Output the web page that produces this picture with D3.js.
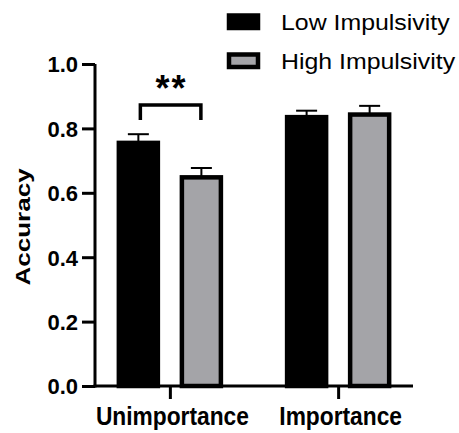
<!DOCTYPE html>
<html>
<head>
<meta charset="utf-8">
<script src="https://cdn.jsdelivr.net/npm/d3@7"></script>
<style>
  html, body { margin: 0; padding: 0; background: #fff; }
  svg { display: block; }
  text { font-family: "Liberation Sans", Arial, sans-serif; fill: #000; }
</style>
</head>
<body>
<div id="chart"></div>
<script>
// values
var categories = ['Unimportance', 'Importance']
var series = ['Low Impulsivity', 'High Impulsivity']
var lowMean = [0.755, 0.835]
var lowSem = [0.027, 0.02]
var highMean = [0.648, 0.843]
var highSem = [0.029, 0.027]
var yTicks = [0, 0.2, 0.4, 0.6, 0.8, 1.0]
var sigLabel = '**'

var W = 459, H = 433
var margin = {top: 64, left: 95, right: 46, bottom: 47}
var w = W - margin.left - margin.right
var h = H - margin.top - margin.bottom
var grey = '#a4a4a8'
var fills = [ '#000', grey ]

var svg = d3.select('#chart').append('svg').attr('width', W).attr('height', H)
var g = svg.append('g').attr('transform', 'translate(' + margin.left + ',' + margin.top + ')')

var y = d3.scaleLinear().domain([0, 1]).range([h, 0])
var x0 = d3.scalePoint().domain(categories).range([0, w]).padding(0.445)
var x1 = d3.scaleBand().domain(series).range([-63, 63]).paddingInner(0.381).paddingOuter(0.19)

// stretch text to a given multiple of its natural width
function fit(sel, factor) {
	sel.each(function() {
		var len = this.getComputedTextLength()
		d3.select(this).attr('textLength', len * factor).attr('lengthAdjust', 'spacingAndGlyphs')
	})
}

var rows = []
categories.forEach(function(c, i) {
	rows.push({cat: c, s: series[0], mean: lowMean[i], sem: lowSem[i], k: 0})
	rows.push({cat: c, s: series[1], mean: highMean[i], sem: highSem[i], k: 1})
})

// error bars (drawn first so the bar border covers their foot)
var err = g.append('g').selectAll('g').data(rows).enter().append('g')
err.append('line')
	.attr('x1', function(d) { return x0(d.cat) + x1(d.s) + x1.bandwidth() / 2 })
	.attr('x2', function(d) { return x0(d.cat) + x1(d.s) + x1.bandwidth() / 2 })
	.attr('y1', function(d) { return y(d.mean) })
	.attr('y2', function(d) { return y(d.mean + d.sem) })
	.attr('stroke', '#000').attr('stroke-width', 2)
err.append('line')
	.attr('x1', function(d) { return x0(d.cat) + x1(d.s) + x1.bandwidth() / 2 - 10.5 })
	.attr('x2', function(d) { return x0(d.cat) + x1(d.s) + x1.bandwidth() / 2 + 10.5 })
	.attr('y1', function(d) { return y(d.mean + d.sem) })
	.attr('y2', function(d) { return y(d.mean + d.sem) })
	.attr('stroke', '#000').attr('stroke-width', 2)

// bars
g.append('g').selectAll('rect').data(rows).enter().append('rect')
	.attr('x', function(d) { return x0(d.cat) + x1(d.s) })
	.attr('y', function(d) { return y(d.mean) })
	.attr('width', x1.bandwidth())
	.attr('height', function(d) { return y(0) - y(d.mean) })
	.attr('fill', function(d) { return fills[d.k] })
	.attr('stroke', '#000').attr('stroke-width', 4.5)

// axes
var yAxis = g.append('g')
	.call(d3.axisLeft(y).tickValues(yTicks).tickFormat(d3.format('.1f')).tickSize(13).tickSizeOuter(0).tickPadding(4))
yAxis.selectAll('line').attr('stroke-width', 3)
yAxis.select('.domain').attr('stroke-width', 3)
yAxis.selectAll('text').style('font-size', '22px').style('font-weight', 'bold').attr('dy', '0.36em')

var xAxis = g.append('g').attr('transform', 'translate(0,' + h + ')')
	.call(d3.axisBottom(x0).tickSize(13).tickSizeOuter(0))
xAxis.selectAll('line').attr('stroke-width', 3)
xAxis.select('.domain').attr('stroke-width', 3).attr('d', 'M-1.5,0H' + w)
xAxis.selectAll('text').style('font-size', '25px').style('font-weight', 'bold')
	.attr('y', 39).attr('dy', 0).attr('dx', 2)
	.call(fit, 0.91)
yAxis.select('.domain').attr('d', 'M0,' + (h + 1.5) + 'V0')

// y title
svg.append('text')
	.attr('transform', 'translate(29.5,' + 227 + ') rotate(-90)')
	.attr('text-anchor', 'middle')
	.style('font-size', '21px').style('font-weight', 'bold')
	.text('Accuracy')
	.call(fit, 1.24)

// significance bracket over the first group
var bx1 = x0(categories[0]) + x1(series[0]) + x1.bandwidth() / 2 + 2
var bx2 = x0(categories[0]) + x1(series[1]) + x1.bandwidth() / 2 - 0.5
var by = y(0.873), byEnd = y(0.826)
g.append('path')
	.attr('d', 'M' + bx1 + ',' + byEnd + 'V' + by + 'H' + bx2 + 'V' + byEnd)
	.attr('fill', 'none').attr('stroke', '#000').attr('stroke-width', 3.5)
g.append('text')
	.attr('x', (bx1 + bx2) / 2 + 1).attr('y', by - 4)
	.attr('text-anchor', 'middle')
	.style('font-size', '36px').style('font-weight', 'bold')
	.style('letter-spacing', '2px')
	.text(sigLabel)

// legend
var legend = svg.append('g').attr('transform', 'translate(229,0)')
var item = legend.selectAll('g').data(series).enter().append('g')
	.attr('transform', function(d, i) { return 'translate(0,' + (i * 39) + ')' })
item.append('rect')
	.attr('x', 0).attr('y', 15.5).attr('width', 29).attr('height', 12.5)
	.attr('fill', function(d, i) { return fills[i] })
	.attr('stroke', '#000').attr('stroke-width', 4.5)
item.append('text')
	.attr('x', 52).attr('y', 29.5)
	.style('font-size', '22.5px')
	.text(function(d) { return d })
	.call(fit, 1.105)
</script>
</body>
</html>
